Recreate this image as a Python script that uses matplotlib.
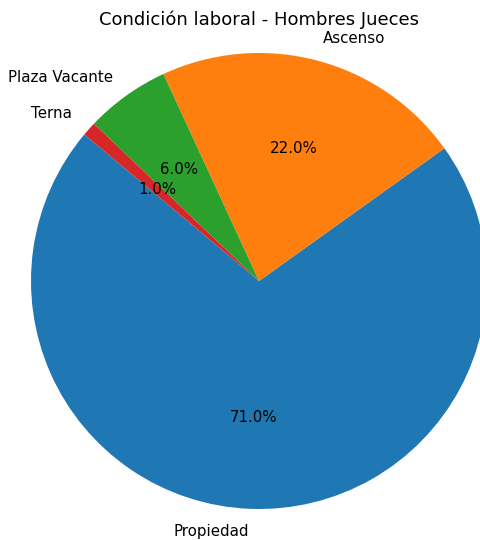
import matplotlib
matplotlib.use("Agg")
import matplotlib.pyplot as plt

categorias = ['Propiedad', 'Ascenso', 'Plaza Vacante', 'Terna']
porcentajes = [71.0, 22.0, 6.0, 1.0]

plt.rcParams['font.size'] = 10.8

fig = plt.figure(figsize=(4.8, 5.4), dpi=100)
ax = fig.add_axes([31/480, 31/540, 456/480, 456/540])

ax.pie(porcentajes, labels=categorias, autopct='%1.1f%%', startangle=140)
ax.set_xlim(-1, 1)
ax.set_ylim(-1, 1)
ax.set_title('Condición laboral - Hombres Jueces', fontsize=13, pad=20)

fig.savefig('out.png', dpi=100)
